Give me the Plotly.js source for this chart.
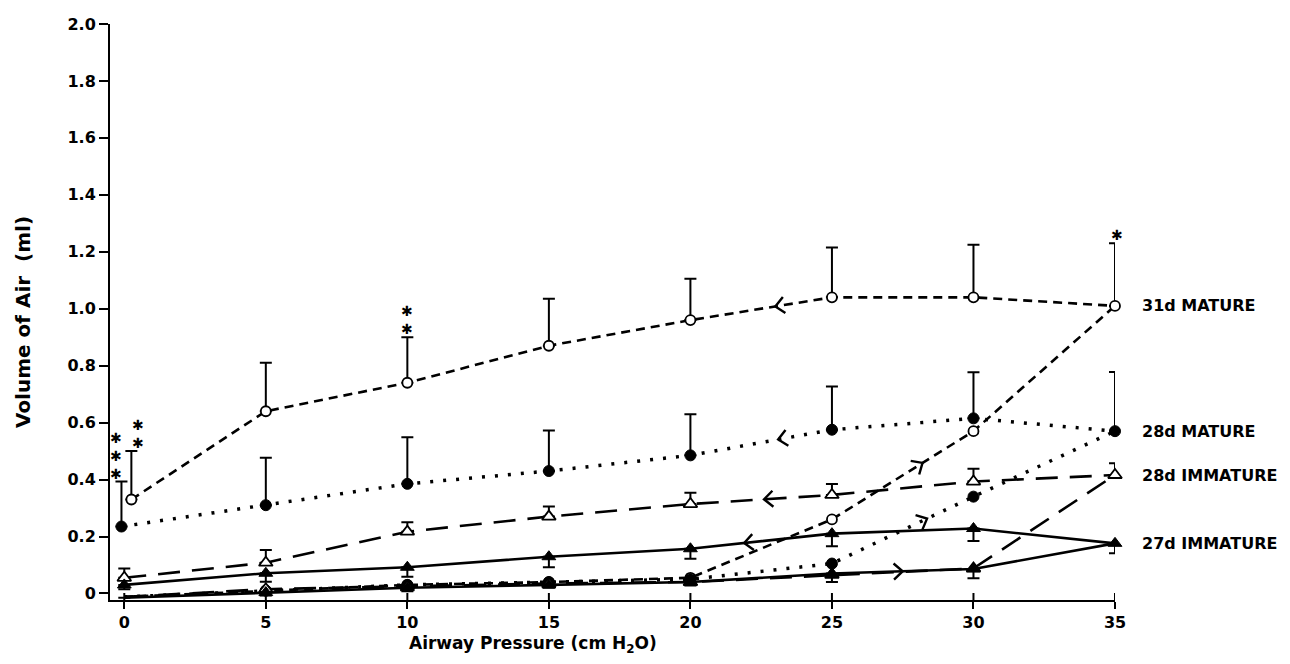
<!DOCTYPE html>
<html><head><meta charset="utf-8">
<script src="https://cdn.plot.ly/plotly-3.0.1.min.js"></script>
<style>html,body{margin:0;padding:0;background:#fff}</style>
</head><body><div id="chart" style="width:1290px;height:664px"></div>
<script>
// ---------- data ----------
const pressure = [0, 5, 10, 15, 20, 25, 30, 35];
const seriesNames = ['31d MATURE', '28d MATURE', '28d IMMATURE', '27d IMMATURE'];

// 31d MATURE (open circles, short dash)
const x31Defl = [0.25, 5, 10, 15, 20, 25, 30, 35];
const y31Defl = [0.33, 0.64, 0.74, 0.87, 0.96, 1.04, 1.04, 1.01];
const e31Defl = [0.17, 0.17, 0.16, 0.165, 0.145, 0.175, 0.185, 0.22];
const y31Infl = [-0.012, 0.01, 0.03, 0.04, 0.055, 0.26, 0.57, 1.01];

// 28d MATURE (filled circles, dotted)
const x28mDefl = [-0.1, 5, 10, 15, 20, 25, 30, 35];
const y28mDefl = [0.235, 0.31, 0.385, 0.43, 0.485, 0.575, 0.615, 0.57];
const e28mDefl = [0.158, 0.167, 0.164, 0.142, 0.144, 0.152, 0.162, 0.208];
const y28mInfl = [-0.012, 0.01, 0.03, 0.04, 0.05, 0.105, 0.34, 0.57];

// 28d IMMATURE (open triangles, long dash)
const x28iDefl = [0, 5, 10, 15, 20, 25, 30, 35];
const y28iDefl = [0.055, 0.108, 0.217, 0.27, 0.314, 0.346, 0.393, 0.416];
const e28iDefl = [0.033, 0.045, 0.033, 0.035, 0.04, 0.038, 0.045, 0.041];
const y28iInfl = [-0.012, 0.015, 0.025, 0.035, 0.04, 0.065, 0.088, 0.416];

// 27d IMMATURE (filled triangles, solid)
const x27Defl = [0, 5, 10, 15, 20, 25, 30, 35];
const y27Defl = [0.03, 0.071, 0.092, 0.129, 0.157, 0.21, 0.228, 0.176];
const e27Defl = [0.015, 0.03, 0.033, 0.037, 0.035, 0.044, 0.044, 0.035];
const y27Infl = [-0.015, 0.003, 0.02, 0.03, 0.04, 0.07, 0.086, 0.176];
const e27Infl = [0, 0.01, 0.012, 0.01, 0.012, 0.03, 0.033, 0];

// direction arrows (x positions on each limb)
const deflArrowX = [23.0, 23.1, 22.6, 21.9];
const inflArrowX = [28.2, 28.36, null, 27.5];

// significance stars: series index, point index, number of stars
const sigSeries = [1, 0, 0, 0];
const sigIndex = [0, 0, 2, 7];
const sigCount = [3, 2, 2, 1];

const yTickVals = [0, 0.2, 0.4, 0.6, 0.8, 1.0, 1.2, 1.4, 1.6, 1.8, 2.0];
const yTickText = ['0', '0.2', '0.4', '0.6', '0.8', '1.0', '1.2', '1.4', '1.6', '1.8', '2.0'];
const xTickVals = [0, 5, 10, 15, 20, 25, 30, 35];

// ---------- styles ----------
const FONT = 'DejaVu Sans, sans-serif';
const W = 1290, H = 664;
const M = {l: 110, r: 175, t: 24, b: 64};
const XR = [-0.505, 35], YR = [-0.023, 2.0];

const lineStyles = [
  {color: 'black', dash: '9px,6px', width: 2.6},
  {color: 'black', dash: '3px,10px', width: 3.5},
  {color: 'black', dash: '22px,12px', width: 2.6},
  {color: 'black', dash: 'solid', width: 2.6}
];
const markerStyles = [
  {symbol: 'circle', size: 10, color: 'white', opacity: 1, line: {color: 'black', width: 1.8}},
  {symbol: 'circle', size: 11, color: 'black', opacity: 1, line: {color: 'black', width: 1}},
  {symbol: 'triangle-up', size: 12, color: 'white', opacity: 1, line: {color: 'black', width: 1.8}},
  {symbol: 'triangle-up', size: 12, color: 'black', opacity: 1, line: {color: 'black', width: 1}}
];

const defl = [
  {x: x31Defl, y: y31Defl, up: e31Defl, down: null},
  {x: x28mDefl, y: y28mDefl, up: e28mDefl, down: null},
  {x: x28iDefl, y: y28iDefl, up: e28iDefl, down: null},
  {x: x27Defl, y: y27Defl, up: null, down: e27Defl}
];
const infl = [
  {y: y31Infl, down: null},
  {y: y28mInfl, down: null},
  {y: y28iInfl, down: null},
  {y: y27Infl, down: e27Infl}
];

function errObj(up, down, n) {
  const zeros = new Array(n).fill(0);
  return {type: 'data', symmetric: false, array: up || zeros, arrayminus: down || zeros,
          color: 'black', thickness: 2, width: 6};
}

const traces = [];
// inflation limbs first
infl.forEach((s, i) => {
  const m = Object.assign({}, markerStyles[i]);
  m.size = pressure.map((p, k) => (k === 0 || k === pressure.length - 1) ? 0 : markerStyles[i].size);
  traces.push({
    x: pressure, y: s.y, type: 'scatter', mode: 'lines+markers',
    name: seriesNames[i] + ' inflation', line: lineStyles[i], marker: m,
    error_y: s.down ? errObj(null, s.down, pressure.length) : {visible: false},
    cliponaxis: false, showlegend: false, hoverinfo: 'x+y'
  });
});
// deflation limbs
defl.forEach((s, i) => {
  traces.push({
    x: s.x, y: s.y, type: 'scatter', mode: 'lines+markers',
    name: seriesNames[i], line: lineStyles[i], marker: markerStyles[i],
    error_y: errObj(s.up, s.down, s.x.length),
    cliponaxis: false, showlegend: false, hoverinfo: 'x+y'
  });
});

function interp(xs, ys, x) {
  for (let k = 0; k < xs.length - 1; k++) {
    if (x >= xs[k] && x <= xs[k + 1]) {
      return ys[k] + (ys[k + 1] - ys[k]) * (x - xs[k]) / (xs[k + 1] - xs[k]);
    }
  }
  return ys[ys.length - 1];
}

// chevron arrowheads as path shapes, oriented along the limb
const kx = (W - M.l - M.r) / (XR[1] - XR[0]);
const ky = (H - M.t - M.b) / (YR[1] - YR[0]);
const shapes = [];
function chevron(xs, ys, hx, dir) {
  const tx = hx - dir * 0.3;
  const hy = interp(xs, ys, hx), ty = interp(xs, ys, tx);
  let dx = (hx - tx) * kx, dy = (hy - ty) * ky;
  const len = Math.hypot(dx, dy); dx /= len; dy /= len;
  const arm = 12, ang = 42 * Math.PI / 180;
  const pts = [ang, -ang].map(a => {
    const rx = -(dx * Math.cos(a) - dy * Math.sin(a));
    const ry = -(dx * Math.sin(a) + dy * Math.cos(a));
    return [hx + rx * arm / kx, hy + ry * arm / ky];
  });
  shapes.push({type: 'path', xref: 'x', yref: 'y',
    path: `M${pts[0][0]},${pts[0][1]} L${hx},${hy} L${pts[1][0]},${pts[1][1]}`,
    line: {color: 'black', width: 2.4}, fillcolor: 'rgba(0,0,0,0)'});
}
deflArrowX.forEach((ax, i) => chevron(defl[i].x, defl[i].y, ax, -1));
inflArrowX.forEach((ax, i) => { if (ax !== null) chevron(pressure, infl[i].y, ax, 1); });

const annotations = [];
// significance stars (one stacked text per group)
const starXShift = [-5, 7, 0, 2];
sigSeries.forEach((si, j) => {
  const s = defl[si];
  const k = sigIndex[j];
  const top = s.y[k] + (s.up ? s.up[k] : 0);
  annotations.push({x: s.x[k], y: top, xref: 'x', yref: 'y',
    text: new Array(sigCount[j]).fill('✱').join('<br>'), showarrow: false,
    xanchor: 'center', yanchor: 'bottom', xshift: starXShift[j], yshift: -1, borderpad: 0,
    font: {family: 'DejaVu Sans', size: 14, color: 'black', weight: 'bold'}});
});

// series labels at right
defl.forEach((s, i) => {
  annotations.push({x: 35, y: s.y[s.y.length - 1], xref: 'x', yref: 'y', text: seriesNames[i],
    showarrow: false, xanchor: 'left', yanchor: 'middle', xshift: 25,
    font: {family: FONT, size: 16, color: 'black', weight: 'bold'}});
});

// axis titles (positioned as in the original)
annotations.push({x: 0, y: 0.5, xref: 'paper', yref: 'paper', xshift: -87, yshift: -10,
  text: 'Volume of Air  (ml)', textangle: -90, showarrow: false, xanchor: 'center', yanchor: 'middle',
  font: {family: FONT, size: 20, color: 'black', weight: 'bold'}});
annotations.push({x: 0, y: 0, xref: 'paper', yref: 'paper', xshift: 423, yshift: -44,
  text: 'Airway Pressure (cm H<sub>2</sub>O)', showarrow: false, xanchor: 'center', yanchor: 'middle',
  font: {family: FONT, size: 17, color: 'black', weight: 'bold'}});

// inner half of x ticks (ticks cross the axis)
xTickVals.forEach(v => shapes.push({type: 'line', xref: 'x', yref: 'paper', ysizemode: 'pixel',
  yanchor: 0, x0: v, x1: v, y0: 0, y1: 7, line: {color: 'black', width: 2}}));

const tickFont = {family: FONT, size: 16, color: 'black', weight: 'bold'};
const layout = {
  width: W, height: H,
  margin: M,
  paper_bgcolor: 'white', plot_bgcolor: 'white',
  showlegend: false,
  font: {family: FONT, color: 'black'},
  xaxis: {range: XR, tickvals: xTickVals, ticks: 'outside', ticklen: 7, tickwidth: 2,
    tickcolor: 'black', showline: true, linecolor: 'black', linewidth: 2, showgrid: false,
    zeroline: false, tickfont: tickFont, fixedrange: true},
  yaxis: {range: YR, tickvals: yTickVals, ticktext: yTickText, ticks: 'outside', ticklen: 9,
    tickwidth: 2, tickcolor: 'black', showline: true, linecolor: 'black', linewidth: 2, showgrid: false,
    zeroline: false, tickfont: tickFont, fixedrange: true},
  annotations: annotations,
  shapes: shapes
};

Plotly.newPlot('chart', traces, layout, {displayModeBar: false, staticPlot: true});
</script>
</body></html>
